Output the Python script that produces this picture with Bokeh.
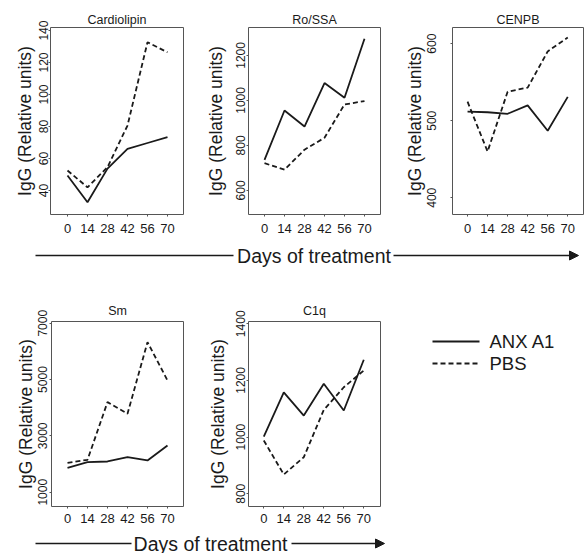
import math
from bokeh.plotting import figure
from bokeh.layouts import column, row
from bokeh.models import Range1d, FixedTicker, Arrow, NormalHead, Label
from bokeh.core.properties import value
from bokeh.embed import file_html
from bokeh.resources import INLINE

# ---- data ----
days = [0, 14, 28, 42, 56, 70]

cardiolipin_anx = [49.4, 32.7, 53.7, 66.0, 69.7, 73.3]
cardiolipin_pbs = [52.5, 42.0, 54.6, 80.6, 132.7, 126.4]

ro_ssa_anx = [736, 955, 884, 1077, 1012, 1274]
ro_ssa_pbs = [721, 692, 781, 834, 982, 997]

cenpb_anx = [511.7, 511.0, 509.0, 520.0, 487.0, 531.0]
cenpb_pbs = [524.7, 460.0, 537.6, 543.0, 590.0, 608.0]

sm_anx = [1866, 2066, 2090, 2243, 2126, 2659]
sm_pbs = [2044, 2150, 4197, 3784, 6328, 4968]

c1q_anx = [1002, 1158, 1076, 1188, 1094, 1273]
c1q_pbs = [988, 868, 929, 1096, 1176, 1235]

cardiolipin_ticks = [40, 60, 80, 100, 120, 140]
ro_ssa_ticks = [600, 800, 1000, 1200]
cenpb_ticks = [400, 500, 600]
sm_ticks = [1000, 3000, 5000, 7000]
c1q_ticks = [800, 1000, 1200, 1400]

series_names = ["ANX A1", "PBS"]
x_title = "Days of treatment"
y_title = "IgG (Relative units)"

FONT = "Liberation Sans"
INK = "#1a1a1a"
DASH = "5 3"


def panel(title, anx, pbs, yr, yticks, xr, w, h, bl, br, bt, bb, lab_so, ax_so, t_so, x_so):
    p = figure(width=w, height=h, x_range=Range1d(*xr), y_range=Range1d(*yr),
               toolbar_location=None, output_backend="svg",
               min_border_left=bl, min_border_right=br,
               min_border_top=bt, min_border_bottom=bb)
    p.title.text = title
    p.title.align = "center"
    p.title.text_font = FONT
    p.title.text_font_size = "12.5px"
    p.title.text_font_style = "normal"
    p.title.text_color = INK
    p.title.standoff = t_so
    p.grid.visible = False
    p.outline_line_color = "#555555"
    p.outline_line_width = 1
    p.background_fill_color = "white"
    p.border_fill_color = "white"

    p.line(days, anx, line_color=INK, line_width=1.8)
    p.line(days, pbs, line_color=INK, line_width=1.8, line_dash=DASH)

    xa = p.xaxis[0]
    xa.ticker = FixedTicker(ticks=days)
    xa.axis_line_color = None
    xa.major_tick_line_color = "#555555"
    xa.major_tick_out = 2
    xa.major_tick_in = 0
    xa.minor_tick_line_color = None
    xa.major_label_text_font = FONT
    xa.major_label_text_font_size = "13px"
    xa.major_label_text_color = INK
    xa.major_label_standoff = x_so

    ya = p.yaxis[0]
    ya.ticker = FixedTicker(ticks=yticks)
    ya.axis_line_color = None
    ya.major_tick_line_color = "#555555"
    ya.major_tick_out = 2
    ya.major_tick_in = 0
    ya.minor_tick_line_color = None
    ya.major_label_orientation = "vertical"
    ya.major_label_text_font = FONT
    ya.major_label_text_font_size = "12px"
    ya.major_label_text_color = INK
    ya.major_label_standoff = lab_so
    ya.axis_label = y_title
    ya.axis_label_text_font = FONT
    ya.axis_label_text_font_size = "17.5px"
    ya.axis_label_text_font_style = "normal"
    ya.axis_label_text_color = INK
    ya.axis_label_standoff = ax_so
    return p


p1 = panel("Cardiolipin", cardiolipin_anx, cardiolipin_pbs, (25.0, 141.9), cardiolipin_ticks,
           (-11.9, 81.2), 195, 240, 50, 12, 27, 26, 0, 2, 2, 7)
p2 = panel("Ro/SSA", ro_ssa_anx, ro_ssa_pbs, (493, 1324), ro_ssa_ticks,
           (-11.2, 81.2), 195, 240, 53, 10, 27, 26, 1, 8, 2, 7)
p3 = panel("CENPB", cenpb_anx, cenpb_pbs, (378.3, 621), cenpb_ticks,
           (-10.5, 81.0), 195, 240, 62, 2, 27, 26, 14, 0, 2, 7)
p4 = panel("Sm", sm_anx, sm_pbs, (492, 7060), sm_ticks,
           (-11.2, 81.2), 195, 260, 51, 12, 51, 24, 2, 0, 8, 5)
p5 = panel("C1q", c1q_anx, c1q_pbs, (755, 1408), c1q_ticks,
           (-10.7, 81.7), 195, 260, 53, 10, 51, 24, 1, 6, 8, 5)


def arrow_strip(h, y, left_end, text_x, right_start, right_end):
    s = figure(width=585, height=h, x_range=Range1d(0, 585), y_range=Range1d(0, h),
               toolbar_location=None, output_backend="svg",
               min_border_left=0, min_border_right=0, min_border_top=0, min_border_bottom=0)
    s.axis.visible = False
    s.grid.visible = False
    s.outline_line_color = None
    s.segment(x0=[35], y0=[y], x1=[left_end], y1=[y], line_color=INK, line_width=1.3)
    s.add_layout(Arrow(x_start=right_start, y_start=y, x_end=right_end, y_end=y,
                       line_color=INK, line_width=1.3,
                       end=NormalHead(size=9, fill_color=INK, line_color=INK, line_width=1)))
    s.add_layout(Label(x=text_x, y=y, text=x_title, text_align="center", text_baseline="middle",
                       text_font=FONT, text_font_size="19.5px", text_color=INK))
    return s


a1 = arrow_strip(30, 15, 233, 313.5, 393, 578)
a2 = arrow_strip(23, 10, 131, 210, 291, 384)

# legend panel: same borders as its row so its frame aligns; y counts px from figure top
lg = figure(width=195, height=260, x_range=Range1d(0, 195), y_range=Range1d(236, 51),
            toolbar_location=None, output_backend="svg",
            min_border_left=0, min_border_right=0, min_border_top=51, min_border_bottom=24)
lg.axis.visible = False
lg.grid.visible = False
lg.outline_line_color = None
leg_y = [71, 93]
lg.segment(x0=[42], y0=[leg_y[0]], x1=[89], y1=[leg_y[0]], line_color=INK, line_width=1.8)
lg.segment(x0=[42], y0=[leg_y[1]], x1=[89], y1=[leg_y[1]], line_color=INK, line_width=1.8,
           line_dash=DASH)
lg.text(x=[99, 99], y=leg_y, text=series_names, text_align="left", text_baseline="middle",
        text_font=value(FONT), text_font_size="18.5px", text_color=INK)

layout = column(row(p1, p2, p3), a1, row(p4, p5, lg), a2)

open("out.html", "w").write(file_html(layout, INLINE))
